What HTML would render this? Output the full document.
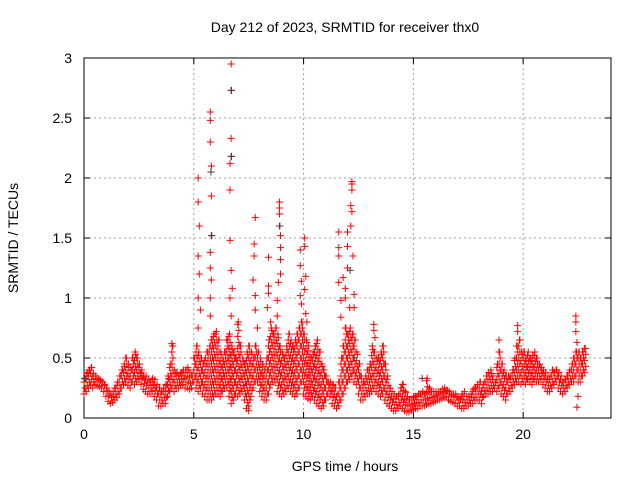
<!DOCTYPE html>
<html><head><meta charset="utf-8"><style>
body{margin:0;background:#fff;}
svg{display:block;font-family:"Liberation Sans",sans-serif;}
</style></head><body>
<svg id="chart" width="640" height="480">
<text x="345" y="32" font-size="14" text-anchor="middle">Day 212 of 2023, SRMTID for receiver thx0</text>
<text x="345" y="471" font-size="14" text-anchor="middle">GPS time / hours</text>
<text transform="translate(18,238) rotate(-90)" font-size="14" text-anchor="middle">SRMTID / TECUs</text>
<g id="grid"></g><g id="axes"></g><g id="marks"></g>
</svg>
<script>
const xTicks=[0,5,10,15,20];
const yTicks=[0,0.5,1,1.5,2,2.5,3];
const yTickLabels=["0","0.5","1","1.5","2","2.5","3"];
const bandLow=[.2,.22,.25,.27,.25,.28,.27,.26,.25,.22,.18,.14,.12,.13,.15,.17,.2,.25,.28,.3,.27,.25,.3,.28,.3,.32,.28,.24,.22,.2,.2,.22,.18,.15,.1,.1,.12,.12,.18,.22,.25,.22,.25,.25,.27,.28,.25,.25,.24,.25,.3,.25,.22,.25,.2,.18,.15,.15,.15,.18,.2,.2,.18,.22,.25,.25,.18,.12,.15,.2,.18,.2,.22,.15,.08,.1,.18,.25,.3,.3,.22,.18,.15,.15,.2,.28,.3,.3,.22,.2,.18,.2,.22,.25,.22,.2,.18,.2,.25,.3,.2,.18,.16,.15,.18,.15,.12,.1,.08,.1,.15,.2,.18,.12,.1,.08,.1,.15,.2,.25,.3,.32,.35,.3,.28,.2,.15,.15,.18,.2,.2,.22,.25,.22,.2,.18,.2,.15,.12,.1,.08,.06,.06,.08,.1,.08,.06,.05,.05,.06,.07,.08,.08,.1,.1,.1,.11,.12,.12,.13,.14,.15,.15,.16,.17,.18,.15,.14,.13,.12,.1,.1,.08,.08,.1,.1,.12,.12,.15,.15,.15,.12,.18,.2,.2,.22,.22,.25,.22,.25,.2,.18,.15,.2,.22,.25,.28,.3,.3,.28,.3,.28,.32,.3,.28,.32,.3,.3,.32,.28,.25,.22,.22,.25,.28,.3,.25,.22,.2,.22,.25,.28,.3,.3,.35,.3,.3,.35,.38];
const bandHigh=[.33,.38,.4,.42,.37,.35,.33,.32,.3,.28,.25,.22,.2,.22,.25,.3,.35,.4,.45,.5,.45,.42,.5,.55,.5,.45,.4,.35,.35,.32,.3,.33,.32,.28,.25,.22,.25,.28,.35,.45,.6,.4,.38,.35,.38,.4,.4,.42,.38,.35,.5,.6,.55,.5,.45,.5,.55,.6,.65,.7,.72,.65,.55,.5,.55,.65,.7,.6,.55,.5,.8,.6,.5,.45,.55,.6,.55,.5,.6,.55,.5,.45,.4,.5,.65,.75,.7,.75,.7,.6,.55,.5,.6,.7,.65,.6,.65,.7,.75,.8,.7,.65,.6,.5,.55,.6,.65,.55,.45,.4,.35,.3,.3,.28,.25,.2,.3,.5,.6,.75,.7,.75,.7,.65,.55,.45,.35,.3,.35,.4,.45,.6,.55,.5,.5,.55,.6,.45,.35,.25,.22,.2,.18,.2,.25,.28,.22,.18,.15,.15,.18,.18,.2,.2,.22,.2,.33,.25,.22,.22,.22,.22,.22,.24,.25,.23,.22,.2,.2,.2,.18,.16,.2,.22,.18,.18,.2,.24,.25,.28,.3,.25,.3,.35,.38,.4,.35,.3,.45,.55,.45,.4,.35,.35,.35,.4,.5,.6,.65,.55,.55,.5,.55,.5,.52,.55,.5,.45,.42,.4,.38,.35,.35,.4,.38,.4,.38,.35,.3,.32,.35,.4,.45,.5,.55,.55,.5,.55,.58];
const spikeT=[5.2,5.2,5.25,5.2,5.25,5.2,5.3,5.2,5.75,5.75,5.75,5.8,5.8,5.8,5.75,5.75,5.8,5.75,5.75,6.7,6.7,6.7,6.7,6.65,6.65,6.65,6.7,6.75,6.65,6.7,7.8,7.75,7.75,7.7,7.8,7.8,7.9,8.4,8.4,8.4,8.35,8.5,8.9,8.9,8.9,8.9,8.95,8.95,8.95,8.95,8.85,8.8,8.8,9.85,9.85,9.9,9.85,9.9,10.05,10.05,10.1,10.05,10.1,10.15,11.6,11.6,11.6,11.6,11.8,11.9,11.9,11.7,11.7,12.0,12.0,12.0,12.2,12.2,12.2,12.15,12.2,12.15,12.25,12.3,12.3,12.1,13.2,13.2,13.25,22.4,22.4,22.4,22.45,22.45,22.5,19.75,19.75,18.9,4.0,7.5];
const spikeV=[2.0,1.8,1.6,1.35,1.2,1.0,0.9,0.75,2.55,2.48,2.3,2.1,1.85,1.52,1.38,1.25,1.15,1.0,0.85,2.95,2.73,2.33,2.18,2.12,1.9,1.48,1.23,1.08,1.0,0.85,1.67,1.45,1.35,1.15,1.02,0.9,0.75,1.34,1.1,1.04,0.92,0.8,1.8,1.75,1.7,1.6,1.52,1.42,1.32,1.2,1.13,0.98,0.85,1.4,1.27,1.14,1.02,0.95,1.5,1.43,1.18,1.07,0.87,0.8,1.55,1.42,1.35,1.13,1.17,1.08,1.0,0.98,0.84,1.55,1.43,1.25,1.97,1.95,1.9,1.77,1.72,1.6,1.35,1.03,0.92,0.92,0.78,0.73,0.67,0.85,0.8,0.72,0.63,0.09,0.18,0.77,0.72,0.65,0.62,0.06];
const grayT=[6.72,6.72,5.78,5.82,12.12,8.92,12.3,0.05,15.4];
const grayV=[2.73,2.18,2.05,1.52,1.23,1.6,0.5,0.33,0.33];

const L=84,R=611,T=58,B=418,XMAX=24,YMAX=3;
const xs=v=>L+(R-L)*v/XMAX, ys=v=>B-(B-T)*v/YMAX;
const NS="http://www.w3.org/2000/svg";
function mk(tag,attrs,parent){const e=document.createElementNS(NS,tag);for(const k in attrs)e.setAttribute(k,attrs[k]);parent.appendChild(e);return e;}
const grid=document.getElementById('grid'),axes=document.getElementById('axes'),marks=document.getElementById('marks');
xTicks.forEach(t=>{
 const x=xs(t);
 if(t>0){const g=mk('line',{x1:x,x2:x,y1:T,y2:B,stroke:'#a0a0a0','stroke-dasharray':'2,3'},grid);
 
 }
 mk('line',{x1:x,x2:x,y1:B,y2:B-6,stroke:'#000'},axes);
 mk('line',{x1:x,x2:x,y1:T,y2:T+6,stroke:'#000'},axes);
 const tx=mk('text',{x:x,y:B+21,'font-size':14,'text-anchor':'middle'},axes);tx.textContent=t;
 
 
});
yTicks.forEach((t,i)=>{
 const y=ys(t);
 if(t>0&&t<YMAX){const g=mk('line',{x1:L,x2:R,y1:y,y2:y,stroke:'#a0a0a0','stroke-dasharray':'2,3'},grid);
 
 }
 mk('line',{x1:L,x2:L+6,y1:y,y2:y,stroke:'#000'},axes);
 mk('line',{x1:R,x2:R-6,y1:y,y2:y,stroke:'#000'},axes);
 const tx=mk('text',{x:L-12,y:y+5,'font-size':14,'text-anchor':'end'},axes);tx.textContent=yTickLabels[i];
 
 
});
const frame=mk('rect',{x:L,y:T,width:R-L,height:B-T,fill:'none',stroke:'#000'},axes);


function cross(t,v,col,name){
 const x=xs(t),y=ys(v);
 const p=mk('path',{d:`M${x-3.5},${y}H${x+3.5}M${x},${y-3.5}V${y+3.5}`,stroke:col,'stroke-width':1,fill:'none'},marks);
 
 
}
bandLow.forEach((lo,i)=>{
 const hi=bandHigh[i],t=i*0.1;
 for(let v=lo,k=0;v<=hi+1e-6;v+=0.05,k++){cross(t+((k%2)?0.05:0),v,'#ff0000','srmtid-point');}
 cross(t+0.03,hi,'#ff0000','srmtid-point');
});
spikeT.forEach((t,i)=>cross(t,spikeV[i],'#ff0000','srmtid-spike-point'));
grayT.forEach((t,i)=>cross(t,grayV[i],'#404040','srmtid-gray-point'));
</script>
</body></html>
